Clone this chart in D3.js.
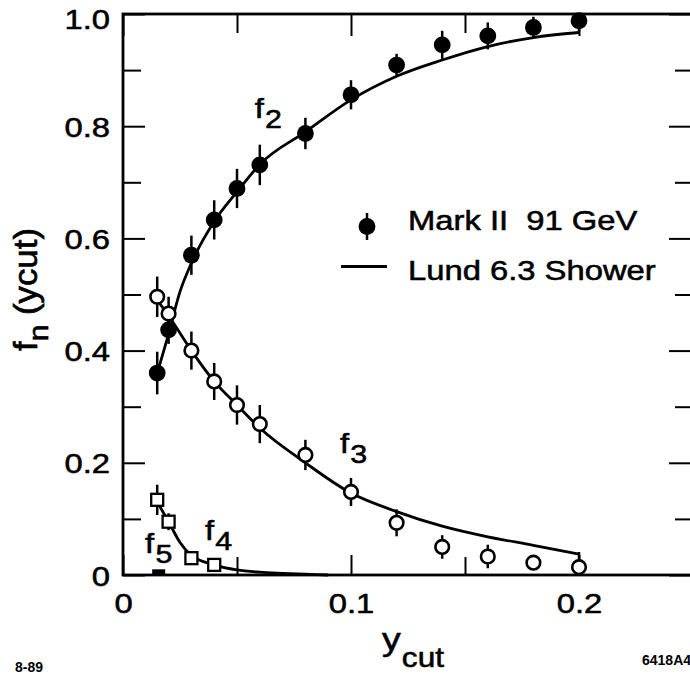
<!DOCTYPE html>
<html><head><meta charset="utf-8">
<script src="https://cdn.jsdelivr.net/npm/d3@7"></script>
<style>
html,body{margin:0;padding:0;background:#fff;}
svg{display:block;font-family:"Liberation Sans",Arial,Helvetica,sans-serif;}
svg text.ink{stroke:#000;stroke-width:0.55px;}
</style></head><body>
<svg id="chart" width="690" height="674"></svg>
<script>
// Jet fractions f_n versus y_cut: Mark II data at 91 GeV and Lund 6.3 parton shower.
const ycutPoints = [0.015, 0.02, 0.03, 0.04, 0.05, 0.06, 0.08, 0.10, 0.12, 0.14, 0.16, 0.18, 0.20];
const f2Data = [0.360, 0.437, 0.570, 0.633, 0.689, 0.731, 0.787, 0.856, 0.909, 0.945, 0.961, 0.976, 0.988];
const f2Err  = [0.038, 0.025, 0.035, 0.035, 0.035, 0.036, 0.028, 0.026, 0.020, 0.025, 0.024, 0.019, 0.020];
const f3Data = [0.496, 0.466, 0.400, 0.345, 0.303, 0.269, 0.214, 0.148, 0.093, 0.050, 0.033, 0.022, 0.014];
const f3Err  = [0.036, 0.030, 0.034, 0.033, 0.035, 0.034, 0.027, 0.025, 0.024, 0.021, 0.021, 0.008, 0.027];
const f4Ycut = [0.015, 0.02, 0.03, 0.04];
const f4Data = [0.134, 0.095, 0.030, 0.018];
const f4Err  = [0.027, 0.015, 0.006, 0.006];
const f5Ycut = [0.015];
const f5Data = [0.003];

// Lund 6.3 shower predictions
const lundX2 = [0.015, 0.02, 0.025, 0.03, 0.04, 0.05, 0.06, 0.08, 0.10, 0.12, 0.14, 0.16, 0.18, 0.20];
const lundF2 = [0.360, 0.430, 0.505, 0.556, 0.630, 0.683, 0.732, 0.790, 0.847, 0.889, 0.918, 0.942, 0.958, 0.967];
const lundX3 = [0.015, 0.02, 0.03, 0.04, 0.05, 0.06, 0.08, 0.10, 0.12, 0.14, 0.16, 0.18, 0.20];
const lundF3 = [0.490, 0.462, 0.400, 0.345, 0.303, 0.262, 0.200, 0.146, 0.113, 0.087, 0.068, 0.053, 0.037];
const lundX4 = [0.015, 0.02, 0.025, 0.03, 0.04, 0.05, 0.06, 0.07, 0.08, 0.09];
const lundF4 = [0.130, 0.095, 0.058, 0.035, 0.018, 0.009, 0.005, 0.003, 0.0015, 0.0];

// Axis ticks
const yMajor = [0, 0.2, 0.4, 0.6, 0.8, 1.0];
const yMinor = [0.1, 0.3, 0.5, 0.7, 0.9];
const xMajor = [0, 0.1, 0.2];
const xMinor = [0.05, 0.15];

// Curve labels: name, subscript, anchor (data units)
const curveLabels = [
  {name: "f", sub: "2", x: 0.0578, y: 0.815},
  {name: "f", sub: "3", x: 0.0952, y: 0.217},
  {name: "f", sub: "4", x: 0.0360, y: 0.063},
  {name: "f", sub: "5", x: 0.0097, y: 0.039}
];

const SX = 1.17;            // horizontal stretch of the lettering
const INK = "#000";

const svg = d3.select("#chart");
const x = d3.scaleLinear().domain([0, 0.25]).range([123, 693]);
const y = d3.scaleLinear().domain([0, 1]).range([575, 14]);

const fmtY = d => d === 0 ? "0" : d3.format(".1f")(d);
const fmtX = d => d === 0 ? "0" : d3.format(".1f")(d);

function styleAxis(g) {
  g.select(".domain").remove();
  g.selectAll(".tick line").attr("stroke", INK).attr("stroke-width", 2);
  g.selectAll(".tick text").attr("fill", INK).attr("font-size", 28).attr("class", "ink");
}

// Left axis
const gl = svg.append("g").attr("transform", `translate(${x(0)},0)`)
  .call(d3.axisLeft(y).tickValues(yMajor).tickSize(-22).tickPadding(13).tickFormat(fmtY));
styleAxis(gl);
gl.selectAll(".tick text").each(function(d) {
  const t = d3.select(this); const tx = +t.attr("x");
  t.attr("x", 0).attr("dy", d === 1 ? "0.5em" : "0.36em")
   .attr("transform", `translate(${tx},0) scale(${SX},1)`);
});
const glm = svg.append("g").attr("transform", `translate(${x(0)},0)`)
  .call(d3.axisLeft(y).tickValues(yMinor).tickSize(-18).tickFormat(""));
styleAxis(glm);

// Right axis
const gr = svg.append("g").attr("transform", `translate(${x(0.25)},0)`)
  .call(d3.axisRight(y).tickValues(yMajor).tickSize(-24).tickFormat(""));
styleAxis(gr);
const grm = svg.append("g").attr("transform", `translate(${x(0.25)},0)`)
  .call(d3.axisRight(y).tickValues(yMinor).tickSize(-18).tickFormat(""));
styleAxis(grm);

// Bottom axis
const gb = svg.append("g").attr("transform", `translate(0,${y(0)})`)
  .call(d3.axisBottom(x).tickValues(xMajor).tickSize(-20).tickPadding(18).tickFormat(fmtX));
styleAxis(gb);
gb.selectAll(".tick text").attr("transform", `scale(${SX},1)`);
const gbm = svg.append("g").attr("transform", `translate(0,${y(0)})`)
  .call(d3.axisBottom(x).tickValues(xMinor).tickSize(-18).tickFormat(""));
styleAxis(gbm);

// Top axis
const gt = svg.append("g").attr("transform", `translate(0,${y(1)})`)
  .call(d3.axisTop(x).tickValues(xMajor).tickSize(-22).tickFormat(""));
styleAxis(gt);
const gtm = svg.append("g").attr("transform", `translate(0,${y(1)})`)
  .call(d3.axisTop(x).tickValues(xMinor).tickSize(-19).tickFormat(""));
styleAxis(gtm);

// Frame
svg.append("rect")
  .attr("x", x(0)).attr("y", y(1))
  .attr("width", x(0.25) - x(0)).attr("height", y(0) - y(1))
  .attr("fill", "none").attr("stroke", INK).attr("stroke-width", 2.8);

// Clip for error bars
svg.append("clipPath").attr("id", "plotClip").append("rect")
  .attr("x", x(0)).attr("y", y(1))
  .attr("width", x(0.25) - x(0)).attr("height", y(0) - y(1));

// Lund curves
const line = d3.line().x(d => x(d[0])).y(d => y(d[1])).curve(d3.curveMonotoneX);
const curves = [d3.zip(lundX2, lundF2), d3.zip(lundX3, lundF3), d3.zip(lundX4, lundF4)];
svg.append("g").selectAll("path").data(curves).join("path")
  .attr("d", line).attr("fill", "none").attr("stroke", INK).attr("stroke-width", 2.8)
  .attr("stroke-linejoin", "round");

// Error bars
const errSets = [
  d3.zip(ycutPoints, f2Data, f2Err),
  d3.zip(ycutPoints, f3Data, f3Err),
  d3.zip(f4Ycut, f4Data, f4Err)
].flat();
svg.append("g").attr("clip-path", "url(#plotClip)")
  .selectAll("line").data(errSets).join("line")
  .attr("x1", d => x(d[0])).attr("x2", d => x(d[0]))
  .attr("y1", d => y(d[1] - d[2])).attr("y2", d => y(d[1] + d[2]))
  .attr("stroke", INK).attr("stroke-width", 2.5);

// f3: open circles
svg.append("g").selectAll("circle").data(d3.zip(ycutPoints, f3Data)).join("circle")
  .attr("cx", d => x(d[0])).attr("cy", d => y(d[1])).attr("r", 6.8)
  .attr("fill", "#fff").attr("stroke", INK).attr("stroke-width", 2.6);

// f2: filled circles
svg.append("g").selectAll("circle").data(d3.zip(ycutPoints, f2Data)).join("circle")
  .attr("cx", d => x(d[0])).attr("cy", d => y(d[1])).attr("r", 8.4)
  .attr("fill", INK);

// f4: open squares
const sq = 12;
svg.append("g").selectAll("rect").data(d3.zip(f4Ycut, f4Data)).join("rect")
  .attr("x", d => x(d[0]) - sq / 2).attr("y", d => y(d[1]) - sq / 2)
  .attr("width", sq).attr("height", sq)
  .attr("fill", "#fff").attr("stroke", INK).attr("stroke-width", 2.3);

// f5: filled marker sitting on the axis
svg.append("g").selectAll("rect").data(d3.zip(f5Ycut, f5Data)).join("rect")
  .attr("x", d => x(d[0]) - 5).attr("y", d => y(d[1]) - 4)
  .attr("width", 13).attr("height", 6)
  .attr("fill", INK);

// Curve labels
curveLabels.forEach(l => {
  const t = svg.append("text").attr("class", "ink")
    .attr("transform", `translate(${x(l.x)},${y(l.y)}) scale(${SX},1)`)
    .attr("font-size", 28).attr("fill", INK);
  t.append("tspan").text(l.name);
  t.append("tspan").attr("dx", 1).attr("dy", 10).attr("font-size", 26).text(l.sub);
});

// Legend
const lg = svg.append("g").attr("transform", "translate(341,0)");
lg.append("line").attr("x1", 26).attr("x2", 26).attr("y1", 213).attr("y2", 240)
  .attr("stroke", INK).attr("stroke-width", 2.5);
lg.append("circle").attr("cx", 26).attr("cy", 226.5).attr("r", 8.4).attr("fill", INK);
lg.append("line").attr("x1", 0).attr("x2", 46).attr("y1", 266.5).attr("y2", 266.5)
  .attr("stroke", INK).attr("stroke-width", 2.8);
lg.append("text").attr("class", "ink").attr("transform", `translate(67,230) scale(${SX},1)`)
  .attr("font-size", 28).attr("fill", INK).attr("xml:space", "preserve")
  .text("Mark II  91 GeV");
lg.append("text").attr("class", "ink").attr("transform", `translate(67,280) scale(${SX},1)`)
  .attr("font-size", 28).attr("fill", INK)
  .text("Lund 6.3 Shower");

// Axis titles
const xt = svg.append("text").attr("class", "ink")
  .attr("transform", `translate(382,650) scale(${SX},1)`).attr("fill", INK);
xt.append("tspan").attr("font-size", 32).text("y");
xt.append("tspan").attr("font-size", 27).attr("dy", 17).attr("dx", 1).text("cut");

const yt = svg.append("text").attr("class", "ink").attr("fill", INK).attr("font-size", 28);
yt.append("tspan").text("f");
yt.append("tspan").attr("font-size", 24).attr("dy", 9).text("n");
yt.append("tspan").attr("dy", -9).attr("xml:space", "preserve").text(" (ycut)");
const ytw = yt.node().getComputedTextLength();
yt.attr("transform", `translate(37,351) rotate(-90) scale(${123 / ytw},${SX})`);

// Figure codes
svg.append("text").attr("x", 15).attr("y", 672).attr("font-size", 14)
  .attr("font-weight", "bold").attr("fill", INK).text("8-89");
svg.append("text").attr("x", 642).attr("y", 665).attr("font-size", 14)
  .attr("font-weight", "bold").attr("fill", INK).text("6418A4");
</script>
</body></html>
